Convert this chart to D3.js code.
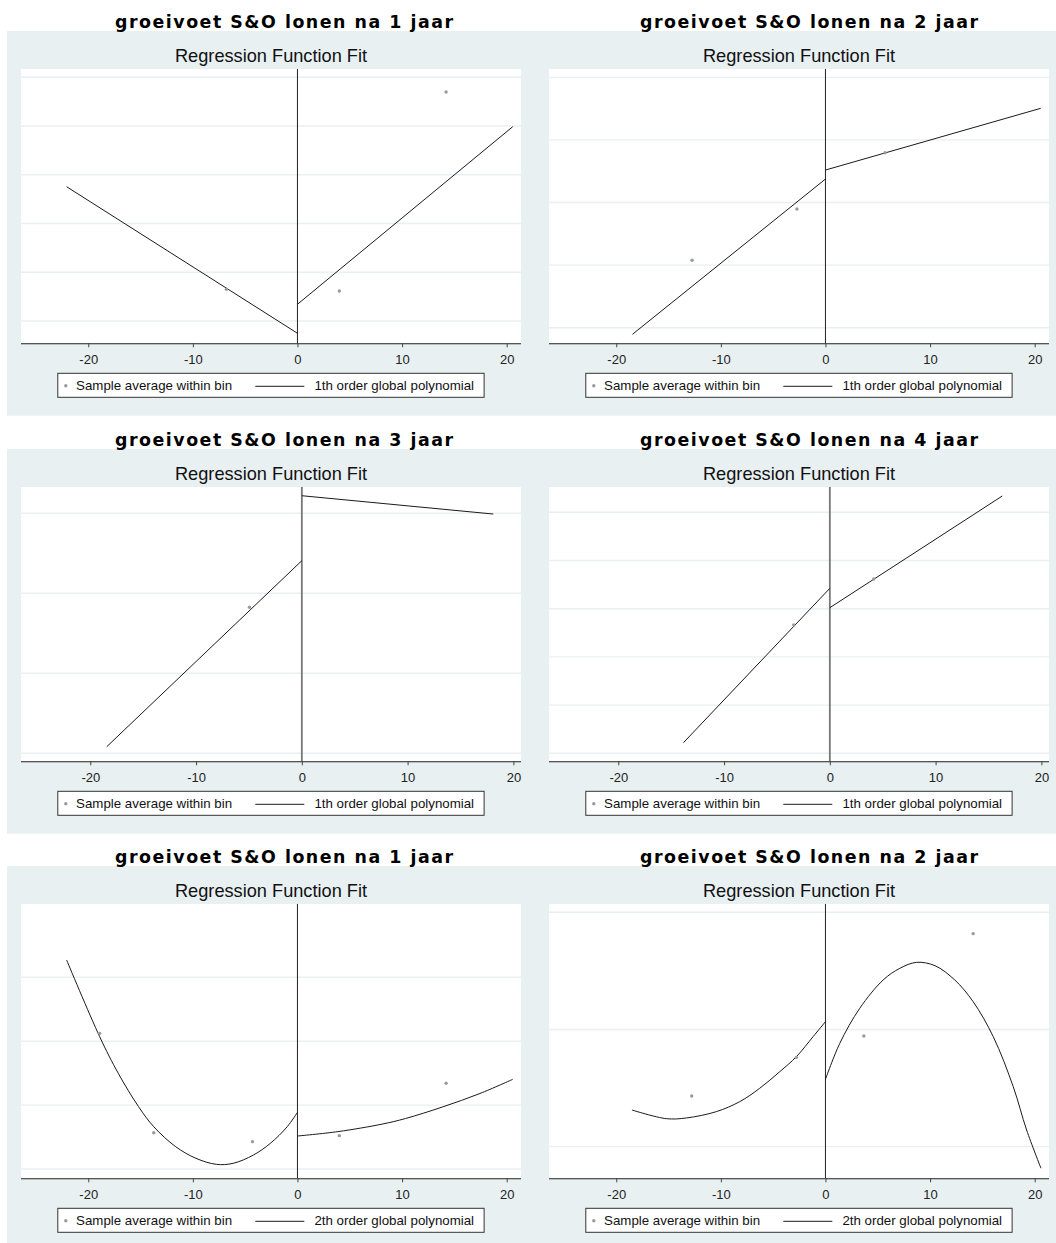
<!DOCTYPE html>
<html><head><meta charset="utf-8">
<script src="https://cdn.jsdelivr.net/npm/d3@7/dist/d3.min.js"></script>
<style>body{margin:0;background:#fff}svg{display:block}</style>
</head><body>
<svg id="chart" width="1056" height="1243"></svg>
<script>
// ---------- data (y in grid units, ylabels are hidden) ----------
const xTicks = [-20, -10, 0, 10, 20];
const panelTitles = [
  "groeivoet S&O lonen na 1 jaar", "groeivoet S&O lonen na 2 jaar",
  "groeivoet S&O lonen na 3 jaar", "groeivoet S&O lonen na 4 jaar",
  "groeivoet S&O lonen na 1 jaar", "groeivoet S&O lonen na 2 jaar"];
const subTitle = "Regression Function Fit";
const binLabel = "Sample average within bin";
const fitLabels = [
  "1th order global polynomial", "1th order global polynomial",
  "1th order global polynomial", "1th order global polynomial",
  "2th order global polynomial", "2th order global polynomial"];

// x ranges of the plot regions
const xDomains = [[-26.43, 21.37], [-26.43, 21.37], [-26.55, 20.72], [-26.55, 20.72], [-26.43, 21.37], [-26.43, 21.37]];
// y ranges and gridline values
const yDomains = [[-0.4575, 5.170], [-0.249, 4.133], [-0.10, 3.329], [-0.166, 5.525], [-0.1455, 4.147], [-0.270, 2.071]];
const yGrids = [[0, 1, 2, 3, 4, 5], [0, 1, 2, 3, 4], [0, 1, 2, 3], [0, 1, 2, 3, 4, 5], [0, 1, 2, 3], [0, 1, 2]];

// panel 1: 1 jaar, linear
const p1Bins = [[-6.79, 0.650], [4.00, 0.616], [14.21, 4.698]];
const p1FitLeft = [[-22.07, 2.755], [0, -0.252]];
const p1FitRight = [[0, 0.343], [20.58, 3.987]];
// panel 2: 2 jaar, linear
const p2Bins = [[-12.75, 1.077], [-2.73, 1.896], [5.70, 2.796]];
const p2FitLeft = [[-18.45, -0.105], [0, 2.375]];
const p2FitRight = [[0, 2.519], [20.58, 3.505]];
// panel 3: 3 jaar, linear
const p3Bins = [[-4.95, 1.825]];
const p3FitLeft = [[-18.44, 0.083], [0, 2.408]];
const p3FitRight = [[0, 3.22], [18.10, 2.991]];
// panel 4: 4 jaar, linear
const p4Bins = [[-3.41, 2.662], [4.15, 3.616]];
const p4FitLeft = [[-13.84, 0.22], [0, 3.423]];
const p4FitRight = [[0, 3.021], [16.30, 5.338]];
// panel 5: 1 jaar, quadratic
const p5Bins = [[-18.91, 2.123], [-13.74, 0.568], [-4.30, 0.428], [4.00, 0.522], [14.21, 1.341]];
const p5FitLeft = [[-22.07, 3.271], [-18.91, 2.071], [-17.13, 1.497], [-15.19, 0.975], [-13.74, 0.662],
  [-11.64, 0.349], [-9.70, 0.167], [-7.76, 0.073], [-6.15, 0.089], [-4.21, 0.219], [-2.59, 0.402],
  [-0.98, 0.662], [0, 0.887]];
const p5FitRight = [[0, 0.516], [3.87, 0.585], [8.08, 0.702], [10.33, 0.790], [13.89, 0.972],
  [17.45, 1.182], [20.58, 1.403]];
// panel 6: 2 jaar, quadratic
const p6Bins = [[-12.79, 0.433], [-2.78, 0.762], [3.67, 0.945], [14.12, 1.818]];
const p6FitLeft = [[-18.50, 0.313], [-15.22, 0.239], [-13.30, 0.245], [-10.43, 0.299], [-8.20, 0.384],
  [-6.29, 0.498], [-4.37, 0.640], [-2.78, 0.768], [-1.18, 0.939], [0, 1.067]];
const p6FitRight = [[0, 0.575], [1.37, 0.882], [3.28, 1.181], [5.51, 1.422], [7.11, 1.522], [8.71, 1.573],
  [10.46, 1.545], [12.37, 1.422], [14.12, 1.237], [16.04, 0.939], [17.95, 0.512], [19.23, 0.142],
  [20.60, -0.184]];

const binsAll = [p1Bins, p2Bins, p3Bins, p4Bins, p5Bins, p6Bins];
const fitLeftAll = [p1FitLeft, p2FitLeft, p3FitLeft, p4FitLeft, p5FitLeft, p6FitLeft];
const fitRightAll = [p1FitRight, p2FitRight, p3FitRight, p4FitRight, p5FitRight, p6FitRight];

// ---------- layout ----------
const rowTops = [31, 449, 866];
const plotLefts = [21, 549];
const plotW = 500;
const titleCenters = [284, 809];
const BG = "#e8f0f2";

const svg = d3.select("#chart");

rowTops.forEach(T => {
  svg.append("rect").attr("x", 7).attr("y", T).attr("width", 1056 - 7).attr("height", 384.7).attr("fill", BG);
});

for (let i = 0; i < 6; i++) {
  const row = Math.floor(i / 2), col = i % 2;
  const T = rowTops[row];
  const L = plotLefts[col];
  const top = T + 38, bottom = T + 312.3;
  const g = svg.append("g");

  // main title (outside the graph region)
  g.append("text").attr("x", titleCenters[col]).attr("y", T - 3.3)
    .attr("text-anchor", "middle")
    .attr("textLength", 338).attr("lengthAdjust", "spacing")
    .style("font-family", "'DejaVu Sans', Verdana, sans-serif")
    .style("font-weight", "bold").style("font-size", "17.4px").attr("fill", "#000")
    .text(panelTitles[i]);

  // subtitle
  g.append("text").attr("x", L + plotW / 2).attr("y", T + 30.7).attr("text-anchor", "middle")
    .style("font-family", "'Liberation Sans', Arial, sans-serif").style("font-size", "18.2px")
    .attr("fill", "#111").text(subTitle);

  // plot region
  g.append("rect").attr("x", L).attr("y", top).attr("width", plotW).attr("height", bottom - top).attr("fill", "#fff");

  const x = d3.scaleLinear().domain(xDomains[i]).range([L, L + plotW]);
  const y = d3.scaleLinear().domain(yDomains[i]).range([bottom, top]);

  // gridlines
  g.selectAll(".grid").data(yGrids[i]).enter().append("line")
    .attr("x1", L).attr("x2", L + plotW)
    .attr("y1", d => y(d)).attr("y2", d => y(d))
    .attr("stroke", BG).attr("stroke-width", 1.4);

  // vertical cutoff line
  const thick = (i === 2 || i === 3);
  g.append("line").attr("x1", x(0)).attr("x2", x(0)).attr("y1", top).attr("y2", bottom)
    .attr("stroke", thick ? "#777" : "#222").attr("stroke-width", thick ? 1.8 : 1);

  // x axis
  const axis = d3.axisBottom(x).tickValues(xTicks).tickSize(4).tickPadding(4).tickFormat(d => String(d));
  const ax = g.append("g").attr("transform", `translate(0,${bottom})`).call(axis);
  ax.select(".domain").attr("stroke", "#222").attr("stroke-width", 1.1).attr("d", `M${L},0.5H${L + plotW}`);
  ax.selectAll(".tick line").attr("stroke", "#444");
  ax.selectAll(".tick text").attr("fill", "#222")
    .style("font-family", "'Liberation Sans', Arial, sans-serif").style("font-size", "13px")
    .attr("dy", null).attr("y", 333.3 - 312.3);

  // fit lines
  const quad = i >= 4;
  const line = d3.line().x(d => x(d[0])).y(d => y(d[1]))
    .curve(quad ? d3.curveCatmullRom.alpha(0.5) : d3.curveLinear);
  [fitLeftAll[i], fitRightAll[i]].forEach(seg => {
    g.append("path").datum(seg).attr("d", line).attr("fill", "none")
      .attr("stroke", "#1a1a1a").attr("stroke-width", 1);
  });

  // bins
  g.selectAll(".bin").data(binsAll[i]).enter().append("circle")
    .attr("cx", d => x(d[0])).attr("cy", d => y(d[1])).attr("r", 1.7).attr("fill", "#9a9a9a");

  // legend
  const lx = L + 36.8, ly = T + 342.3, lw = 426.3, lh = 24;
  const lg = g.append("g");
  lg.append("rect").attr("x", lx).attr("y", ly).attr("width", lw).attr("height", lh)
    .attr("fill", "#fff").attr("stroke", "#333").attr("stroke-width", 1);
  lg.append("circle").attr("cx", lx + 8).attr("cy", ly + 12.5).attr("r", 1.7).attr("fill", "#9a9a9a");
  lg.append("text").attr("x", lx + 18.3).attr("y", ly + 16.9)
    .style("font-family", "'Liberation Sans', Arial, sans-serif").style("font-size", "13.3px")
    .attr("fill", "#111").text(binLabel);
  lg.append("line").attr("x1", lx + 197.5).attr("x2", lx + 246.5).attr("y1", ly + 13).attr("y2", ly + 13)
    .attr("stroke", "#1a1a1a").attr("stroke-width", 1);
  lg.append("text").attr("x", lx + 256.6).attr("y", ly + 16.9)
    .style("font-family", "'Liberation Sans', Arial, sans-serif").style("font-size", "13.3px")
    .attr("fill", "#111").text(fitLabels[i]);
}
</script>
</body></html>
